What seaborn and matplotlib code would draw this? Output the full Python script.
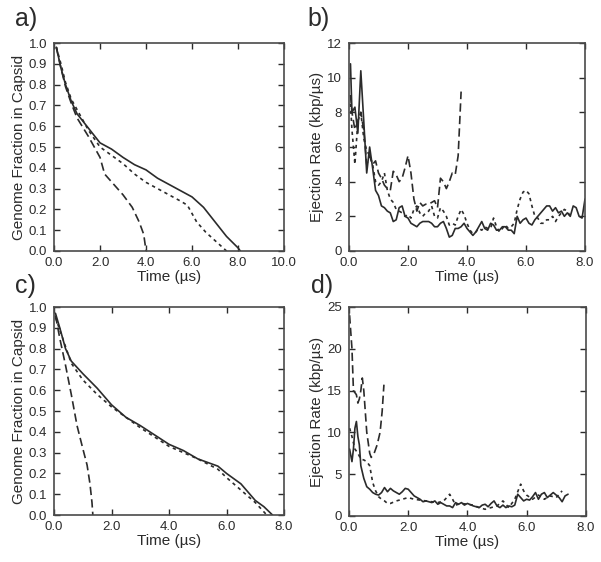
import numpy as np
import pandas as pd
import seaborn as sns
import matplotlib.pyplot as plt

# ---- panel a: genome fraction in capsid ----
a_solid_t = [0.1, 0.3, 0.5, 0.75, 1.0, 1.5, 2.0, 2.5, 3.0, 3.5, 4.0, 4.5, 5.0, 5.5, 6.0, 6.5, 7.0, 7.5, 8.0, 8.1]
a_solid_f = [0.98, 0.88, 0.80, 0.72, 0.66, 0.59, 0.52, 0.49, 0.45, 0.415, 0.39, 0.35, 0.32, 0.29, 0.26, 0.21, 0.14, 0.07, 0.015, 0.0]
a_dot_t = [0.1, 0.3, 0.5, 0.75, 1.0, 1.5, 2.0, 2.5, 3.0, 3.5, 4.0, 4.5, 5.0, 5.5, 5.8, 6.2, 6.6, 7.0, 7.5]
a_dot_f = [0.98, 0.90, 0.81, 0.73, 0.68, 0.58, 0.50, 0.46, 0.42, 0.37, 0.33, 0.30, 0.27, 0.24, 0.22, 0.14, 0.09, 0.05, 0.0]
a_dash_t = [0.1, 0.3, 0.5, 0.75, 1.0, 1.5, 2.0, 2.2, 2.6, 3.0, 3.4, 3.7, 3.9, 4.0]
a_dash_f = [0.98, 0.88, 0.79, 0.71, 0.64, 0.55, 0.45, 0.37, 0.32, 0.27, 0.21, 0.14, 0.08, 0.0]

# ---- panel b: ejection rate ----
b_solid_t = [0.05, 0.1, 0.2, 0.3, 0.4, 0.5, 0.6, 0.7, 0.8, 0.9, 1.0, 1.1, 1.2, 1.3, 1.4, 1.5, 1.6, 1.7, 1.8, 1.9,
             2.0, 2.1, 2.2, 2.3, 2.4, 2.5, 2.6, 2.7, 2.8, 2.9, 3.0, 3.1, 3.2, 3.3, 3.4, 3.5, 3.6, 3.7, 3.8, 3.9,
             4.0, 4.1, 4.2, 4.3, 4.4, 4.5, 4.6, 4.7, 4.8, 4.9, 5.0, 5.1, 5.2, 5.3, 5.4, 5.5, 5.6, 5.7, 5.8, 5.9,
             6.0, 6.1, 6.2, 6.3, 6.4, 6.5, 6.6, 6.7, 6.8, 6.9, 7.0, 7.1, 7.2, 7.3, 7.4, 7.5, 7.6, 7.7, 7.8, 7.9, 8.0]
b_solid_r = [10.8, 8.0, 8.3, 6.8, 10.4, 7.5, 4.5, 6.0, 4.8, 3.5, 3.2, 2.6, 2.5, 2.3, 2.2, 1.7, 1.8, 2.5, 2.6, 2.0,
             1.9, 1.6, 1.5, 1.4, 1.6, 1.7, 1.7, 1.7, 1.6, 1.4, 1.4, 1.6, 1.7, 1.3, 0.8, 0.9, 1.3, 1.3, 1.4, 1.6,
             1.3, 1.1, 0.9, 1.1, 1.4, 1.7, 1.3, 1.2, 1.6, 1.5, 1.2, 1.2, 1.4, 1.4, 1.2, 1.2, 1.0, 2.0, 1.6, 1.8,
             1.9, 1.6, 1.5, 1.8, 2.0, 2.2, 2.4, 2.6, 2.6, 2.3, 2.5, 2.2, 2.3, 2.0, 2.2, 2.0, 2.6, 2.5, 2.0, 1.9, 3.0]
b_dash_t = [0.05, 0.1, 0.2, 0.3, 0.4, 0.5, 0.6, 0.7, 0.8, 0.9, 1.0, 1.1, 1.2, 1.3, 1.4, 1.5, 1.6, 1.7, 1.8, 1.9,
            2.0, 2.1, 2.2, 2.3, 2.4, 2.5, 2.6, 2.7, 2.8, 2.9, 3.0, 3.1, 3.2, 3.3, 3.4, 3.5, 3.6, 3.7, 3.8]
b_dash_r = [9.0, 8.0, 7.0, 7.5, 8.0, 7.0, 5.0, 5.5, 5.0, 5.2, 4.5, 4.2, 3.8, 3.6, 3.5, 4.6, 4.4, 4.0, 4.2, 4.8,
            5.5, 4.5, 3.0, 2.3, 2.8, 2.6, 2.7, 2.7, 2.8, 2.9, 2.5, 4.2, 4.0, 3.6, 4.0, 4.5, 4.4, 5.5, 9.2]
b_dot_t = [0.05, 0.1, 0.2, 0.3, 0.4, 0.5, 0.6, 0.7, 0.8, 0.9, 1.0, 1.1, 1.2, 1.3, 1.4, 1.5, 1.6, 1.7, 1.8, 1.9,
           2.0, 2.1, 2.2, 2.3, 2.4, 2.5, 2.6, 2.7, 2.8, 2.9, 3.0, 3.1, 3.2, 3.3, 3.4, 3.5, 3.6, 3.7, 3.8, 3.9,
           4.0, 4.1, 4.2, 4.3, 4.4, 4.5, 4.6, 4.7, 4.8, 4.9, 5.0, 5.1, 5.2, 5.3, 5.4, 5.5, 5.6, 5.7, 5.8, 5.9,
           6.0, 6.1, 6.2, 6.3, 6.4, 6.5, 6.6, 6.7, 6.8, 6.9, 7.0, 7.1, 7.2, 7.3, 7.4, 7.5]
b_dot_r = [8.5, 7.0, 5.0, 7.5, 8.0, 6.5, 5.8, 5.5, 5.0, 4.0, 3.8, 4.0, 4.5, 3.5, 3.0, 2.8, 2.4, 2.3, 2.2, 2.0,
           2.1, 1.9, 2.4, 2.6, 2.2, 2.0, 2.2, 2.3, 2.6, 2.0, 1.9, 2.5, 2.3, 2.0, 1.5, 1.6, 1.5, 2.0, 2.4, 2.1,
           1.6, 1.2, 1.0, 1.1, 1.3, 1.2, 1.4, 1.3, 1.3, 1.9, 1.4, 1.1, 1.3, 1.5, 1.3, 1.4, 1.6, 2.4, 3.0, 3.4,
           3.5, 3.3, 2.6, 2.0, 1.9, 1.6, 1.6, 1.8, 1.8, 2.0, 1.7, 2.0, 2.2, 2.4, 2.3, 2.0]

# ---- panel c: genome fraction in capsid ----
c_solid_t = [0.05, 0.2, 0.4, 0.6, 1.0, 1.5, 2.0, 2.5, 3.0, 3.5, 4.0, 4.5, 5.0, 5.5, 5.7, 6.0, 6.5, 7.0, 7.3, 7.6]
c_solid_f = [0.97, 0.90, 0.80, 0.74, 0.68, 0.61, 0.53, 0.47, 0.43, 0.385, 0.34, 0.31, 0.27, 0.245, 0.235, 0.20, 0.15, 0.07, 0.04, 0.0]
c_dot_t = [0.05, 0.3, 0.6, 1.0, 1.5, 2.0, 2.5, 3.0, 3.5, 4.0, 4.5, 5.0, 5.7, 6.0, 6.5, 7.0, 7.4]
c_dot_f = [0.95, 0.85, 0.73, 0.65, 0.58, 0.52, 0.47, 0.42, 0.375, 0.33, 0.30, 0.27, 0.22, 0.18, 0.12, 0.06, 0.0]
c_dash_t = [0.05, 0.2, 0.4, 0.6, 0.8, 1.0, 1.15, 1.25, 1.32, 1.35]
c_dash_f = [0.96, 0.85, 0.72, 0.58, 0.43, 0.32, 0.24, 0.15, 0.06, 0.0]

# ---- panel d: ejection rate ----
d_solid_t = [0.02, 0.1, 0.15, 0.2, 0.25, 0.3, 0.35, 0.4, 0.5, 0.6, 0.7, 0.8, 0.9, 1.0, 1.1, 1.2, 1.3, 1.4, 1.5, 1.6,
             1.7, 1.8, 1.9, 2.0, 2.1, 2.2, 2.3, 2.4, 2.5, 2.6, 2.7, 2.8, 2.9, 3.0, 3.1, 3.2, 3.3, 3.4, 3.5, 3.6,
             3.7, 3.8, 3.9, 4.0, 4.2, 4.4, 4.5, 4.6, 4.7, 4.8, 4.9, 5.0, 5.1, 5.2, 5.3, 5.4, 5.5, 5.6, 5.7, 5.8,
             5.9, 6.0, 6.1, 6.2, 6.3, 6.4, 6.5, 6.6, 6.7, 6.8, 6.9, 7.0, 7.1, 7.2, 7.3, 7.4]
d_solid_r = [8.0, 6.5, 8.0, 10.5, 11.3, 9.5, 8.5, 6.0, 4.5, 3.5, 3.2, 2.8, 2.6, 2.5, 2.8, 3.4, 2.9, 3.3, 3.0, 2.8,
             2.6, 2.9, 3.3, 3.2, 2.8, 2.4, 2.2, 2.0, 1.7, 1.8, 1.7, 1.6, 1.8, 1.4, 1.6, 1.4, 1.2, 1.2, 1.0, 1.6,
             1.4, 1.6, 1.3, 1.5, 1.2, 1.0, 1.3, 1.4, 1.1, 1.5, 1.8, 1.2, 1.0, 1.3, 1.0, 1.2, 1.1, 1.3, 2.6, 2.2,
             1.8, 2.0, 1.9, 2.3, 2.8, 2.0, 2.6, 2.8, 2.2, 2.5, 2.8, 2.5, 2.2, 1.7, 2.4, 2.6]
d_dash_t = [0.02, 0.1, 0.15, 0.25, 0.3, 0.35, 0.4, 0.45, 0.5, 0.6, 0.7, 0.75, 0.85, 0.95, 1.05, 1.12, 1.18]
d_dash_r = [24.0, 20.0, 15.0, 14.5, 13.5, 14.0, 15.0, 16.5, 15.0, 10.0, 7.5, 7.0, 7.5, 8.5, 10.0, 12.5, 15.7]
d_dot_t = [0.02, 0.1, 0.2, 0.3, 0.4, 0.5, 0.6, 0.7, 0.8, 0.9, 1.0, 1.1, 1.2, 1.3, 1.4, 1.6, 1.8, 2.0, 2.2, 2.4,
           2.6, 2.8, 3.0, 3.2, 3.4, 3.5, 3.6, 3.8, 4.0, 4.2, 4.4, 4.6, 4.8, 5.0, 5.2, 5.4, 5.6, 5.8, 5.9, 6.0,
           6.2, 6.4, 6.6, 6.8, 7.0, 7.2]
d_dot_r = [10.5, 9.5, 8.0, 7.5, 6.8, 6.7, 6.5, 6.0, 4.0, 3.0, 2.3, 2.0, 1.8, 1.5, 1.5, 1.8, 2.0, 2.2, 2.0, 1.9,
           1.8, 1.7, 1.6, 1.8, 2.6, 2.0, 1.3, 1.5, 1.4, 1.3, 1.0, 0.8, 1.0, 1.2, 1.8, 1.0, 2.0, 3.8, 3.0, 2.5,
           2.0, 2.5, 2.0, 2.4, 2.2, 3.0]

sns.set_style("ticks")
plt.rcParams['font.family'] = ['Liberation Sans', 'DejaVu Sans']

ink = "#2b2b2b"
styles = {"solid": "-", "dotted": (0, (2, 2.2)), "dashed": (0, (5, 2.5))}


def draw(ax, series, xlim, xticks, xticklabels, ylim, yticks, yticklabels, ylabel):
    for kind, t, v in series:
        sns.lineplot(x=t, y=v, ax=ax, color=ink, lw=1.2, linestyle=styles[kind])
    ax.set_xlim(*xlim)
    ax.set_ylim(*ylim)
    ax.set_xticks(xticks)
    ax.set_xticklabels(xticklabels)
    ax.set_yticks(yticks)
    ax.set_yticklabels(yticklabels)
    ax.tick_params(direction="in", top=True, right=True, length=4.5, width=1,
                   labelsize=9.5, colors=ink)
    ax.tick_params(axis="x", pad=4)
    ax.tick_params(axis="y", pad=5)
    for s in ax.spines.values():
        s.set_color("#4a4a4a")
        s.set_linewidth(1.2)
    ax.set_xlabel("Time (µs)", fontsize=11, color=ink, labelpad=1)
    ax.set_ylabel(ylabel, fontsize=11, color=ink, labelpad=2)


fig = plt.figure(figsize=(6.01, 5.62), dpi=100)
ax_a = fig.add_axes([0.0899, 0.5534, 0.3827, 0.370])
ax_b = fig.add_axes([0.5807, 0.5534, 0.3927, 0.370])
ax_c = fig.add_axes([0.0899, 0.0836, 0.3827, 0.370])
ax_d = fig.add_axes([0.5807, 0.0819, 0.3940, 0.372])

frac_ticks = np.round(np.arange(0, 1.01, 0.1), 1)
frac_labels = [f"{v:.1f}" for v in frac_ticks]

draw(ax_a, [("solid", a_solid_t, a_solid_f), ("dotted", a_dot_t, a_dot_f), ("dashed", a_dash_t, a_dash_f)],
     (0, 10), [0, 2, 4, 6, 8, 10], ["0.0", "2.0", "4.0", "6.0", "8.0", "10.0"],
     (0, 1), frac_ticks, frac_labels, "Genome Fraction in Capsid")
draw(ax_b, [("solid", b_solid_t, b_solid_r), ("dotted", b_dot_t, b_dot_r), ("dashed", b_dash_t, b_dash_r)],
     (0, 8), [0, 2, 4, 6, 8], ["0.0", "2.0", "4.0", "6.0", "8.0"],
     (0, 12), [0, 2, 4, 6, 8, 10, 12], ["0", "2", "4", "6", "8", "10", "12"], "Ejection Rate (kbp/µs)")
draw(ax_c, [("solid", c_solid_t, c_solid_f), ("dotted", c_dot_t, c_dot_f), ("dashed", c_dash_t, c_dash_f)],
     (0, 8), [0, 2, 4, 6, 8], ["0.0", "2.0", "4.0", "6.0", "8.0"],
     (0, 1), frac_ticks, frac_labels, "Genome Fraction in Capsid")
draw(ax_d, [("solid", d_solid_t, d_solid_r), ("dotted", d_dot_t, d_dot_r), ("dashed", d_dash_t, d_dash_r)],
     (0, 8), [0, 2, 4, 6, 8], ["0.0", "2.0", "4.0", "6.0", "8.0"],
     (0, 25), [0, 5, 10, 15, 20, 25], ["0", "5", "10", "15", "20", "25"], "Ejection Rate (kbp/µs)")

for label, x, y in [("a)", 0.025, 0.988), ("b)", 0.512, 0.988), ("c)", 0.025, 0.512), ("d)", 0.517, 0.512)]:
    fig.text(x, y, label, fontsize=18, color=ink, va="top", ha="left")

fig.savefig("out.png", dpi=100, facecolor="white")
